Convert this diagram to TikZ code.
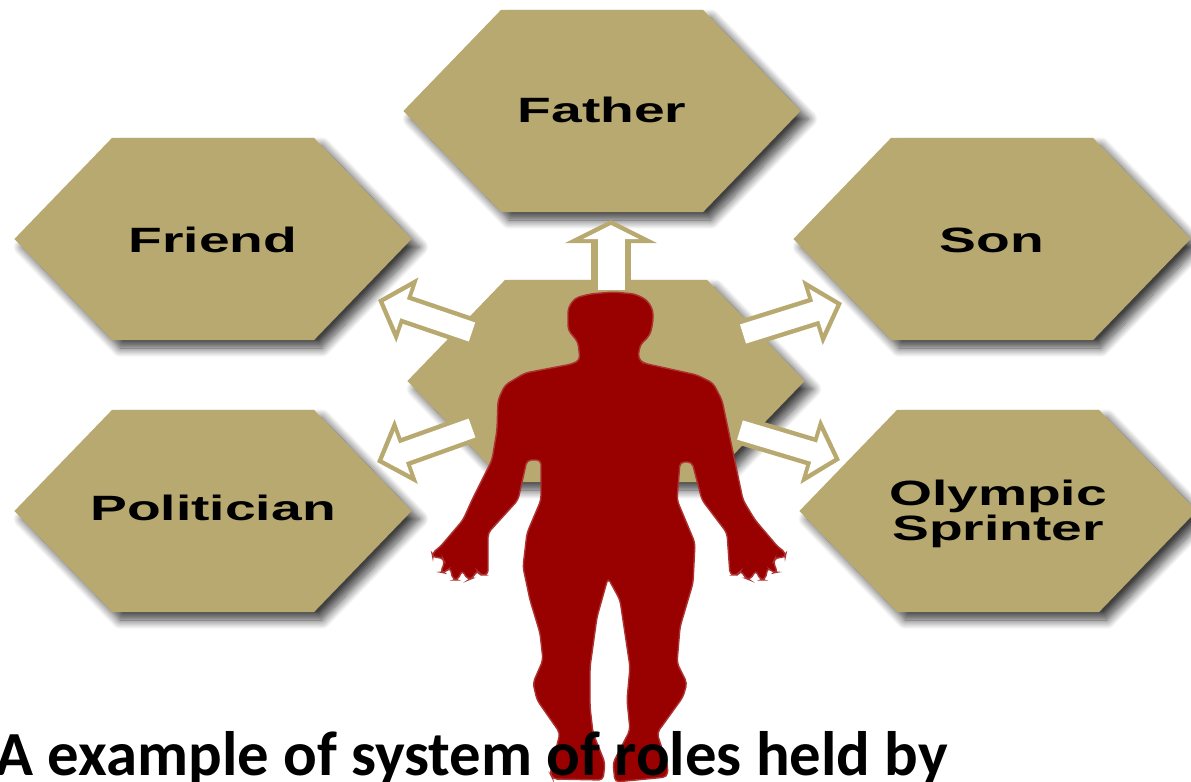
\documentclass[tikz,border=0pt]{standalone}
\usepackage{fontspec}
\usepackage{xcolor}
\setmainfont{Liberation Sans}
\newfontfamily\captionfont{Carlito}
\usetikzlibrary{
	arrows.meta,
	shapes.symbols,
	shadows.blur
}
\definecolor{RoleTan}{RGB}{184,169,112}
\definecolor{BodyRed}{RGB}{153,0,0}
\newcommand{\rolelabel}[2][0pt]{\makebox[0pt]{\raisebox{#1}[8pt][2pt]{\scalebox{1.57}[1]{\bfseries #2}}}}
\tikzset{
	rolebox/.style={shape=signal, signal to=east and west, signal pointer angle=92,
		minimum width=3.97cm, minimum height=2.02cm, inner sep=0pt, fill=RoleTan,
		font=\fontsize{10pt}{12pt}\selectfont, align=center,
		blur shadow={shadow xshift=0.08cm, shadow yshift=-0.08cm, shadow blur radius=0.09cm, shadow blur steps=12, shadow opacity=75}},
	widearrow/.style={draw=RoleTan, line width=0.4cm, -{Triangle[length=0.23cm, width=0.91cm]},
		postaction={draw=white, line width=0.27cm, shorten >=0.05cm, -{Triangle[length=0.14cm, width=0.55cm]}}},
	thinarrow/.style={draw=RoleTan, line width=0.29cm, -{Triangle[length=0.31cm, width=0.67cm]},
		postaction={draw=white, line width=0.2cm, shorten >=0.06cm, -{Triangle[length=0.21cm, width=0.45cm]}}}
}

\begin{document}
\begin{tikzpicture}[x=0.01cm, y=-0.01cm]
	\useasboundingbox (0,0) rectangle (1191,782);
	\clip (0,0) rectangle (1191,782);

	\node[rolebox] (centre) at (606,381) {};
	\node[rolebox] (father) at (602,111) {\rolelabel[-0.3pt]{Father}};
	\node[rolebox] (friend) at (213,239) {\rolelabel[-0.85pt]{Friend}};
	\node[rolebox] (son) at (992,239) {\rolelabel[-0.85pt]{Son}};
	\node[rolebox] (politician) at (213,511) {\rolelabel[0.3pt]{Politician}};
	\node[rolebox] (sprinter) at (998,511) {\rolelabel[-0.4pt]{Olympic}\\[-2pt]\rolelabel[-0.4pt]{Sprinter}};

	% free ends of the arrows
	\coordinate (fatherbase) at (611,290);
	\coordinate (fathertip) at (611,220);
	\coordinate (friendbase) at (472,332);
	\coordinate (friendtip) at (378,300);
	\coordinate (sonbase) at (743,334);
	\coordinate (sontip) at (842,303);
	\coordinate (politicianbase) at (472,428);
	\coordinate (politiciantip) at (377,462);
	\coordinate (sprinterbase) at (740,430);
	\coordinate (sprintertip) at (840,460);

	\draw[widearrow] (fatherbase) -- (fathertip);
	\draw[thinarrow] (friendbase) -- (friendtip);
	\draw[thinarrow] (sonbase) -- (sontip);
	\draw[thinarrow] (politicianbase) -- (politiciantip);
	\draw[thinarrow] (sprinterbase) -- (sprintertip);

	% body outline, clockwise from the top of the head
	\fill[BodyRed, rounded corners=1.2pt, draw=BodyRed!80!white, line width=0.4pt]
		(613,292) -- (635,294) -- (647,300) -- (653,310) -- (653,322) -- (650,335) -- (640,345)
		-- (638,358) -- (643,363) -- (697,375) -- (713,383) -- (722,400) -- (743,500) -- (755,520)
		-- (778,547) -- (786,553) -- (785,558) -- (776,557) -- (773,563) -- (778,572) -- (773,573)
		-- (768,567) -- (765,580) -- (760,580) -- (756,570) -- (750,580) -- (745,578) -- (741,570)
		-- (738,575) -- (730,575) -- (727,533) -- (702,500) -- (692,462) -- (680,462) -- (677,500)
		-- (695,543) -- (693,583) -- (680,627) -- (677,663) -- (687,683) -- (683,697) -- (657,733)
		-- (668,767) -- (667,777) -- (615,782) -- (613,763) -- (630,730) -- (627,700)
		-- (630,667) -- (620,600) -- (608,578) -- (597,617) -- (590,667) -- (590,707)
		-- (593,733) -- (605,763) -- (603,780) -- (553,779) -- (550,773) -- (560,733)
		-- (537,700) -- (533,683) -- (543,660) -- (540,633) -- (530,600) -- (523,567)
		-- (527,533) -- (541,500) -- (541,460) -- (527,460) -- (518,500) -- (488,533)
		-- (488,575) -- (480,575) -- (477,570) -- (473,578) -- (468,580) -- (462,570) -- (458,580)
		-- (453,580) -- (450,567) -- (445,573) -- (440,572) -- (445,563) -- (442,557) -- (433,558)
		-- (432,553) -- (440,547) -- (463,520) -- (472,500) -- (492,460) -- (497,430) -- (498,400)
		-- (505,385) -- (525,373) -- (572,364) -- (580,360) -- (578,342) -- (568,330)
		-- (568,308) -- (575,298) -- (590,294) -- cycle;

	\node[anchor=base west, inner sep=0pt, font=\captionfont\bfseries\fontsize{17.85pt}{20pt}\selectfont] (caption) at (-5,775) {A example of system of roles held by};
\end{tikzpicture}
\end{document}
